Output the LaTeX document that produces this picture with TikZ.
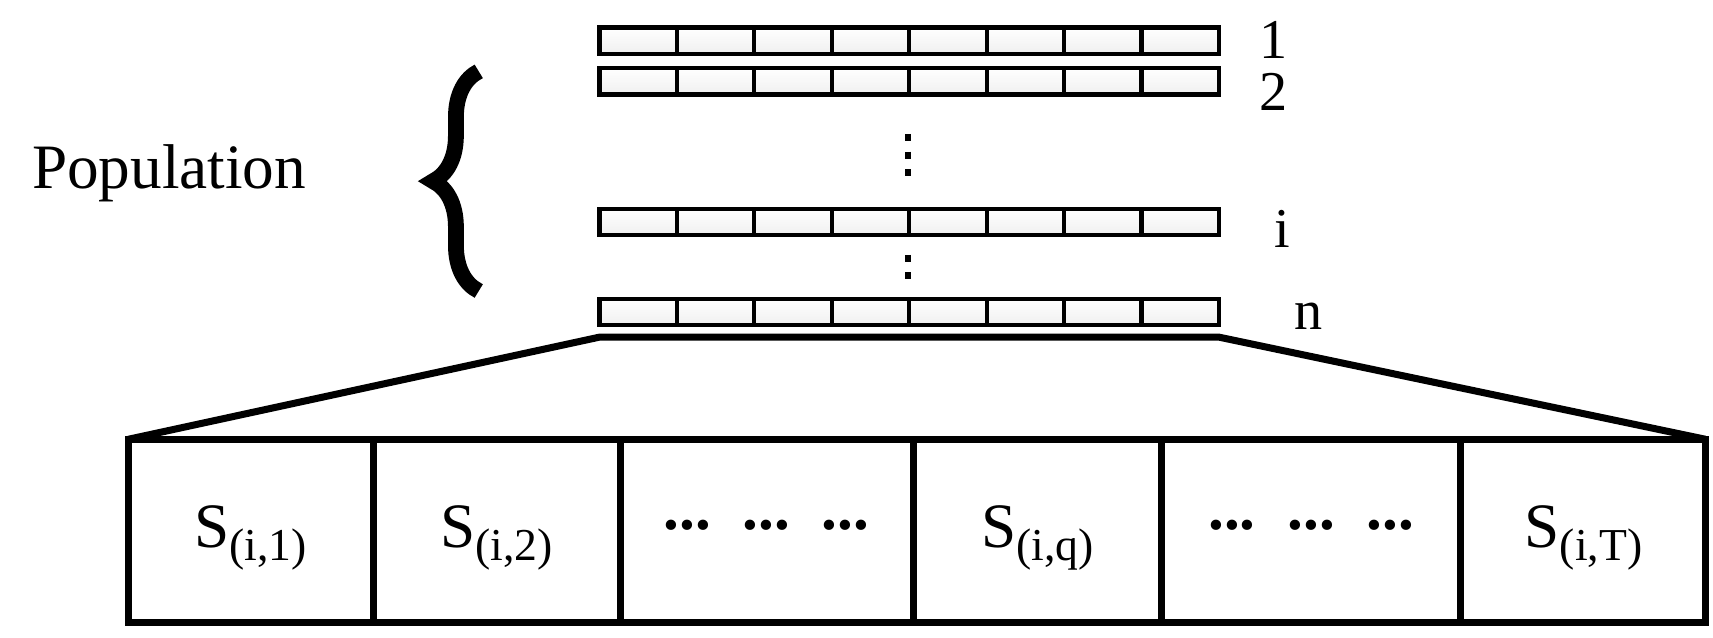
\documentclass[tikz,border=0pt]{standalone}
\usepackage{fontspec}
\setmainfont{Liberation Serif}
\usetikzlibrary{decorations.pathreplacing}
\begin{document}
\begin{tikzpicture}[x=0.01098cm,y=-0.01098cm,
  cell/.style={draw,line width=1.2pt,top color=white,bottom color=gray!12},
  lbl/.style={font=\fontsize{16}{18}\selectfont},
  big/.style={font=\fontsize{18}{22}\selectfont},
  vdots/.style={line width=1.8pt,dash pattern=on 2pt off 3pt}]
\useasboundingbox (0,0) rectangle (1560,581);
\foreach \n/\y in {b1/25,b2/62,bi/190,bn/272}{
  \foreach \k in {0,...,7}{
    \draw[cell] ({546+\k*70.5},\y) rectangle ({546+(\k+1)*70.5},\y+24);
  }
  \coordinate (\n) at (1110,\y+12);
}
\node[lbl] (l1) at (1160,36) {1};
\node[lbl] (l2) at (1160,84) {2};
\node[lbl] (li) at (1168,208) {i};
\node[lbl] (ln) at (1192,288) {n};
\draw[vdots] (827,122) -- (827,162);
\draw[vdots] (827,232) -- (827,262);
\node[big,anchor=west] (pop) at (18,158) {Population};
\draw[decorate,decoration={brace,amplitude=13pt},line width=4.5pt] (436,265) -- (436,65);
\coordinate (tl) at (546,307); \coordinate (tr) at (1110,307);
\coordinate (bl) at (117,400); \coordinate (br) at (1553,400);
\draw[line width=2pt] (bl) -- (tl) -- (tr) -- (br);
\draw[line width=2pt] (117,400) rectangle (1553,567);
\foreach \x in {340,565,832,1058,1330}{\draw[line width=2pt] (\x,400) -- (\x,567);}
\node[big] (s1) at (228,490) {S\raisebox{-0.45ex}{\fontsize{13}{15}\selectfont(i,1)}};
\node[big] (s2) at (452,490) {S\raisebox{-0.45ex}{\fontsize{13}{15}\selectfont(i,2)}};
\node[big] (d1) at (698,478) {\textbf{...}\ \ \textbf{...}\ \ \textbf{...}};
\node[big] (sq) at (945,490) {S\raisebox{-0.45ex}{\fontsize{13}{15}\selectfont(i,q)}};
\node[big] (d2) at (1194,478) {\textbf{...}\ \ \textbf{...}\ \ \textbf{...}};
\node[big] (sT) at (1442,490) {S\raisebox{-0.45ex}{\fontsize{13}{15}\selectfont(i,T)}};
\end{tikzpicture}
\end{document}
